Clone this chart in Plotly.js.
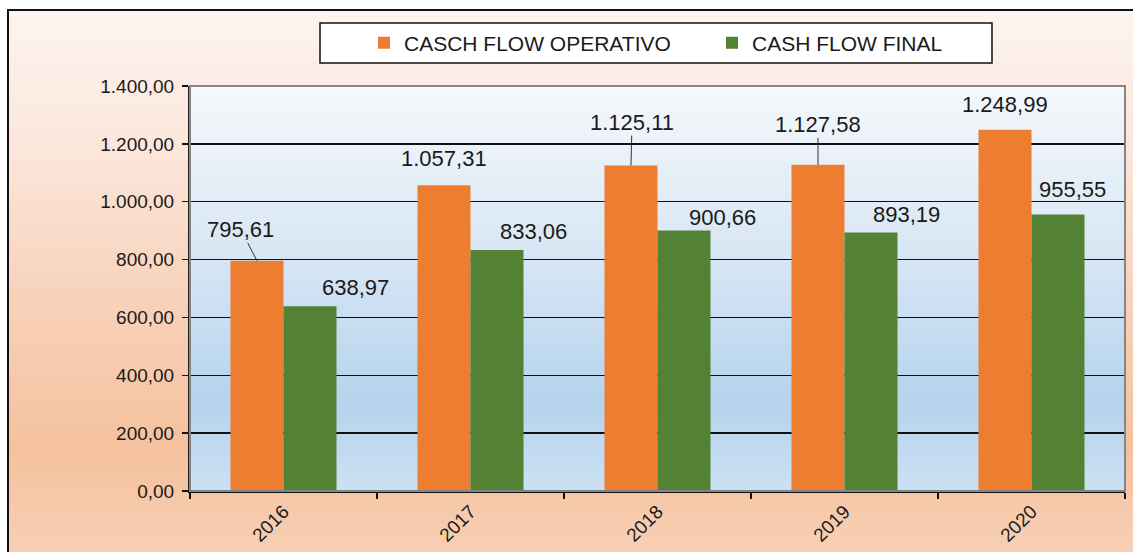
<!DOCTYPE html>
<html>
<head>
<meta charset="utf-8">
<script src="https://cdn.plot.ly/plotly-3.0.1.min.js"></script>
<style>
  html, body { margin: 0; padding: 0; width: 1133px; height: 552px; overflow: hidden; background: #ffffff; }
  #frame {
    position: absolute; left: 7px; top: 9px; width: 1140px; height: 560px;
    border-left: 2px solid #111; border-top: 2px solid #111;
    background: linear-gradient(to bottom, #FDF4EF 0%, #FBE6DA 25%, #F8D3BC 50%, #F4C19E 78%, #F8D2B8 100%);
  }
  #chart { position: absolute; left: 0; top: 0; width: 1133px; height: 552px; }
</style>
</head>
<body>
<div id="frame"></div>
<div id="chart"></div>
<script>
// ---- data ----
const years = ['2016', '2017', '2018', '2019', '2020'];
const operativo = [795.61, 1057.31, 1125.11, 1127.58, 1248.99];
const finale = [638.97, 833.06, 900.66, 893.19, 955.55];
const seriesNames = ['CASCH FLOW OPERATIVO', 'CASH FLOW FINAL'];
const yTicks = [0, 200, 400, 600, 800, 1000, 1200, 1400];

// ---- styling / layout constants ----
const ORANGE = '#ED7D31';
const GREEN = '#548235';
const FONT = 'Liberation Sans, Arial, sans-serif';
const TEXT = '#1a1a1a';
const W = 1133, H = 552;
const M = { l: 190, r: 8, t: 86, b: 61 };
const plotW = W - M.l - M.r, plotH = H - M.t - M.b;
const px2x = p => (p - M.l) / plotW;
const px2y = p => (H - M.b - p) / plotH;
const BARGAP = 0.433;
const half = (1 - BARGAP) / 4; // center offset of each bar in category units

// label offsets in pixels [ax, ay, leader]
const opLabelOff = [[-16, -31, true], [0, -27, false], [1, -43, true], [0, -40, true], [0, -25, false]];
const finLabelOff = [[45, -19, false], [36, -19, false], [38, -13, false], [35, -18, false], [14, -25, false]];

function fmt(v) {
  const parts = v.toFixed(2).split('.');
  const intPart = parts[0].replace(/\B(?=(\d{3})+(?!\d))/g, '.');
  return intPart + ',' + parts[1];
}

const traces = [
  { type: 'bar', name: seriesNames[0], x: years, y: operativo, marker: { color: ORANGE, line: { width: 0 } }, legend: 'legend', hoverinfo: 'none' },
  { type: 'bar', name: seriesNames[1], x: years, y: finale, marker: { color: GREEN, line: { width: 0 } }, legend: 'legend2', hoverinfo: 'none' }
];

const annotations = [];
function addLabels(vals, offs, shift) {
  vals.forEach((v, i) => {
    const o = offs[i];
    annotations.push({
      x: i + shift, y: v, xref: 'x', yref: 'y',
      text: fmt(v), showarrow: true, ax: o[0], ay: o[1],
      arrowhead: 0, arrowwidth: 1, standoff: 0,
      arrowcolor: o[2] ? '#333333' : 'rgba(0,0,0,0)',
      font: { family: FONT, size: 22, color: TEXT },
      borderpad: 0
    });
  });
}
addLabels(operativo, opLabelOff, -half);
addLabels(finale, finLabelOff, half);

const gradSvg = '<svg xmlns="http://www.w3.org/2000/svg" width="100" height="100" preserveAspectRatio="none">' +
  '<defs><linearGradient id="g" x1="0" y1="0" x2="0" y2="1">' +
  '<stop offset="0" stop-color="#F5F8FC"/>' +
  '<stop offset="0.4" stop-color="#D9E7F4"/>' +
  '<stop offset="0.78" stop-color="#B5D3ED"/>' +
  '<stop offset="1" stop-color="#CCE0F3"/>' +
  '</linearGradient></defs><rect width="100" height="100" fill="url(#g)"/></svg>';

const legendY = px2y(43);
const layout = {
  width: W, height: H,
  margin: M,
  paper_bgcolor: 'rgba(0,0,0,0)',
  plot_bgcolor: 'rgba(0,0,0,0)',
  separators: ',.',
  font: { family: FONT, color: TEXT },
  barmode: 'group', bargap: BARGAP, bargroupgap: 0,
  showlegend: true,
  legend: { x: px2x(364), xanchor: 'left', y: legendY, yanchor: 'middle', orientation: 'h',
            bgcolor: 'rgba(0,0,0,0)', borderwidth: 0, font: { family: FONT, size: 21, color: TEXT } },
  legend2: { x: px2x(712), xanchor: 'left', y: legendY, yanchor: 'middle', orientation: 'h',
             bgcolor: 'rgba(0,0,0,0)', borderwidth: 0, font: { family: FONT, size: 21, color: TEXT } },
  xaxis: {
    type: 'category', tickson: 'boundaries', ticks: 'outside', ticklen: 6, tickwidth: 1.5, tickcolor: '#111',
    showline: true, linecolor: '#111', linewidth: 2, showgrid: false, tickangle: -45,
    tickfont: { family: FONT, size: 19, color: TEXT }
  },
  yaxis: {
    range: [0, 1400], tickvals: yTicks, tickformat: ',.2f', ticks: 'outside', ticklen: 6, tickwidth: 1.5, tickcolor: '#111',
    showline: true, linecolor: '#222', linewidth: 2, showgrid: true, gridcolor: '#111', gridwidth: 1.5,
    zeroline: false, ticklabelstandoff: 4,
    tickfont: { family: FONT, size: 19, color: TEXT }
  },
  images: [{
    source: 'data:image/svg+xml;charset=utf-8,' + encodeURIComponent(gradSvg),
    xref: 'paper', yref: 'paper', x: 0, y: 1, sizex: 1, sizey: 1,
    sizing: 'stretch', layer: 'below', xanchor: 'left', yanchor: 'top'
  }],
  shapes: [
    { type: 'rect', xref: 'paper', yref: 'paper', x0: 0, x1: 1, y0: 0, y1: 1,
      line: { color: '#858585', width: 2 }, fillcolor: 'rgba(0,0,0,0)', layer: 'above' },
    { type: 'rect', xref: 'paper', yref: 'paper', x0: px2x(320), x1: px2x(992), y0: px2y(63), y1: px2y(23),
      line: { color: '#111', width: 1.5 }, fillcolor: '#ffffff', layer: 'below' }
  ],
  annotations: annotations
};

Plotly.newPlot('chart', traces, layout, { displayModeBar: false, staticPlot: true });
</script>
</body>
</html>
